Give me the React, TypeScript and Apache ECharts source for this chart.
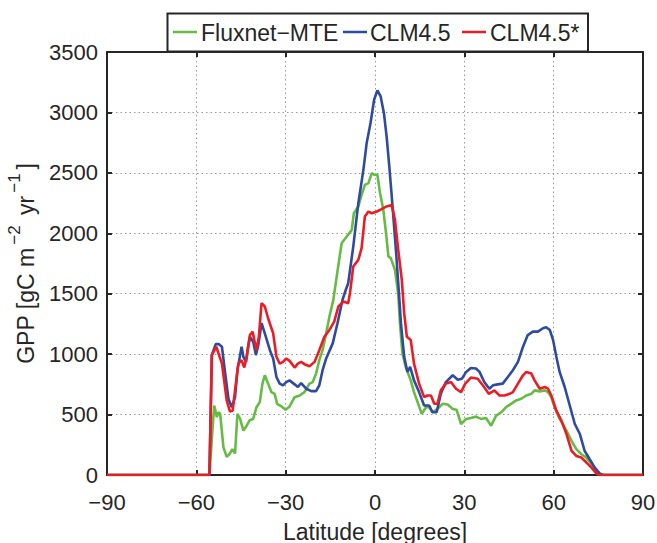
import React, { useEffect, useRef } from "react";
import * as echarts from "echarts";

const seriesNames = ["Fluxnet\u2212MTE", "CLM4.5", "CLM4.5*"];
const seriesColors = ["#66bb44", "#2e4b9f", "#ec1c24"];

const fluxLat = [-90, -55.6, -54.8, -54, -53.1, -52.6, -52, -50.9, -49.8, -48.7, -47.9, -47, -46.2, -45.3, -44.2, -43.1, -42, -40.9, -39.8, -38.7, -37.8, -37, -35.9, -34.8, -33.7, -32.9, -31.4, -30, -28.7, -27, -25.3, -23.7, -22, -20.9, -19.8, -18.7, -17.6, -16.4, -15.3, -14, -12.7, -11.2, -9.5, -7.8, -7.1, -5.6, -4.5, -3.4, -2.2, -1.1, -0.3, 0.8, 1.7, 2.8, 3.7, 4.5, 5.3, 6.7, 7.8, 8.4, 9.2, 10.3, 12, 13.1, 14.3, 15.7, 17.1, 18.2, 19.3, 21, 22.7, 24.4, 26.1, 27.4, 28.9, 30.6, 32.2, 33.9, 35.6, 37.3, 39, 40.7, 42.4, 44, 45.7, 47.4, 49.1, 50.8, 52.5, 53.6, 55.3, 57, 58.1, 59.2, 60.3, 62, 64.3, 66, 67.6, 69.3, 71, 72.7, 74.4, 75.7, 76.6, 90];
const fluxGpp = [0, 0, 300, 575, 478, 519, 506, 228, 150, 178, 214, 178, 506, 464, 367, 408, 456, 464, 561, 603, 756, 825, 756, 686, 672, 589, 567, 539, 567, 644, 658, 686, 756, 769, 839, 950, 1033, 1172, 1311, 1449, 1670, 1918, 1973, 2028, 2166, 2222, 2318, 2401, 2415, 2498, 2484, 2484, 2332, 2194, 2001, 1808, 1794, 1697, 1500, 1250, 1006, 894, 783, 686, 603, 506, 561, 561, 519, 547, 589, 583, 547, 539, 422, 464, 472, 483, 464, 472, 408, 492, 519, 561, 589, 617, 631, 658, 672, 700, 692, 700, 686, 644, 561, 464, 367, 283, 214, 172, 144, 89, 33, 6, 0, 0];

const clmLat = [-90, -55.6, -54.8, -53.5, -52.5, -51.4, -50.3, -49.2, -48.1, -47, -46.2, -45.3, -44.8, -44.2, -43.3, -42.6, -42, -40.9, -40, -39.2, -38.1, -37, -35.3, -34.2, -33.1, -32, -30.9, -29.8, -28.7, -27, -25.9, -24.8, -23.1, -21.4, -19.8, -18.7, -17.6, -16.4, -14.2, -12.6, -10.9, -9.8, -9, -7.3, -5.6, -3.9, -2.8, -1.5, -0.3, 0.8, 1.9, 3, 3.9, 4.8, 5.9, 7.1, 8.2, 8.7, 9.8, 10.9, 11.8, 13.1, 14.8, 16.5, 18.2, 19.3, 20.7, 22.1, 23.8, 26.1, 27.8, 29.2, 30.6, 32.2, 33.9, 35.1, 36.7, 38.4, 39.6, 41.2, 42.9, 44.6, 46.3, 48, 49.7, 51.3, 53, 54.7, 56.4, 57.5, 58.7, 59.8, 60.9, 62, 63.7, 65.4, 67.1, 68.8, 70.4, 72.1, 73.8, 75.5, 76.6, 90];
const clmGpp = [0, 0, 992, 1083, 1083, 1061, 839, 630, 561, 644, 867, 992, 1061, 978, 936, 1061, 1144, 1103, 992, 1075, 1256, 1172, 1033, 964, 811, 756, 742, 769, 783, 750, 728, 761, 714, 694, 694, 742, 867, 964, 1089, 1256, 1450, 1533, 1587, 1890, 2249, 2525, 2746, 2912, 3105, 3182, 3132, 2994, 2801, 2553, 2222, 1835, 1449, 1256, 978, 853, 894, 783, 686, 575, 575, 519, 519, 672, 769, 825, 789, 797, 853, 886, 881, 853, 769, 714, 742, 750, 756, 811, 867, 936, 1061, 1158, 1186, 1186, 1214, 1222, 1200, 1117, 978, 853, 728, 575, 422, 339, 200, 130, 61, 11, 0, 0];

const clmStarLat = [-90, -55.6, -54.8, -53.3, -51.4, -49.8, -48.7, -47.8, -47, -45.9, -44.8, -43.9, -43.1, -42, -41.1, -40.3, -39.8, -39, -38.1, -37, -35.9, -34.2, -33.1, -32, -30.9, -29.8, -28.7, -27, -25.9, -24.8, -23.7, -22, -20.3, -18.7, -17, -15.3, -13.7, -12.3, -10.6, -9, -8.4, -7.3, -5.6, -4.5, -3.4, -2.2, -1.1, 0.6, 2.2, 3.9, 5.6, 6.7, 7.8, 9, 9.8, 10.7, 12, 13.1, 14.8, 16.5, 17.6, 18.8, 19.9, 21, 22.1, 23.8, 25.5, 27.2, 28.9, 30.3, 32.2, 34.5, 36.2, 38.2, 40.1, 41.8, 43.5, 45.2, 46.3, 48, 49.7, 50.8, 52.5, 53.6, 55.3, 57, 58.1, 59.2, 60.9, 62.6, 64.3, 66, 67.6, 69.3, 71, 72.7, 74.4, 75.5, 90];
const clmStarGpp = [0, 0, 992, 1061, 922, 617, 525, 533, 700, 922, 950, 889, 978, 1158, 1186, 1089, 1033, 1144, 1422, 1394, 1297, 1172, 978, 922, 936, 964, 944, 889, 922, 936, 917, 900, 936, 1033, 1144, 1200, 1269, 1394, 1435, 1421, 1506, 1725, 1780, 1877, 2139, 2180, 2166, 2180, 2200, 2222, 2235, 2111, 1863, 1614, 1339, 1144, 1117, 922, 756, 644, 658, 658, 589, 589, 700, 756, 769, 714, 686, 756, 806, 797, 742, 672, 700, 658, 658, 672, 686, 756, 825, 853, 839, 783, 714, 728, 714, 658, 533, 450, 339, 200, 158, 144, 103, 61, 11, 0, 0];

const xTitle = "Latitude [degrees]";

const FONT = "'Liberation Sans', Arial, Helvetica, sans-serif";
const INK = "#262626";

function pairs(lat: number[], v: number[]) {
  return lat.map((x, i) => [x, v[i]]);
}

export default function App() {
  const ref = useRef<HTMLDivElement>(null);
  useEffect(() => {
    if (!ref.current) return;
    const chart = echarts.init(ref.current, null, { renderer: "svg" });
    const fmt = (v: number) => (v < 0 ? "\u2212" + Math.abs(v) : String(v));
    const axisLine = { show: true, onZero: false, lineStyle: { color: INK, width: 2 } };
    const axisTick = { show: true, inside: true, length: 5, lineStyle: { color: INK, width: 2 } };
    const split = { show: true, lineStyle: { color: "#9a9a9a", width: 1, type: [1.5, 3] as any } };
    const datasets = [pairs(fluxLat, fluxGpp), pairs(clmLat, clmGpp), pairs(clmStarLat, clmStarGpp)];
    const legendX = [173, 343, 462];
    const legendTextX = [201, 370, 490];
    const graphic: any[] = [
      {
        type: "rect",
        shape: { x: 167.5, y: 13.5, width: 420.5, height: 38 },
        style: { fill: "#fff", stroke: INK, lineWidth: 2 },
        z: 100,
      },
    ];
    seriesNames.forEach((n, i) => {
      graphic.push({
        type: "line",
        shape: { x1: legendX[i], y1: 32, x2: legendX[i] + 24, y2: 32 },
        style: { stroke: seriesColors[i], lineWidth: 2.5 },
        z: 101,
      });
      graphic.push({
        type: "text",
        x: legendTextX[i],
        y: 33,
        style: { text: n, fill: INK, font: `23px ${FONT}`, align: "left", verticalAlign: "middle" },
        z: 101,
      });
    });
    chart.setOption({
      animation: false,
      backgroundColor: "#fff",
      grid: { left: 107, right: 14, top: 52, bottom: 68, containLabel: false, outerBoundsMode: "none" },
      xAxis: [
        {
          type: "value",
          min: -90,
          max: 90,
          interval: 30,
          position: "bottom",
          axisLine,
          axisTick,
          splitLine: split,
          axisLabel: { formatter: fmt, color: INK, fontSize: 22, fontFamily: FONT, margin: 16 },
          name: xTitle,
          nameLocation: "middle",
          nameGap: 45,
          nameMoveOverlap: false,
          nameTextStyle: { color: INK, fontSize: 23, fontFamily: FONT },
        },
        {
          type: "value",
          min: -90,
          max: 90,
          interval: 30,
          position: "top",
          axisLine,
          axisTick,
          splitLine: { show: false },
          axisLabel: { show: false },
        },
      ],
      yAxis: [
        {
          type: "value",
          min: 0,
          max: 3500,
          interval: 500,
          position: "left",
          axisLine,
          axisTick,
          splitLine: split,
          axisLabel: { formatter: fmt, color: INK, fontSize: 22, fontFamily: FONT, margin: 9 },
          name: "GPP [gC m{sup|\u22122} yr{sup|\u22121}]",
          nameLocation: "middle",
          nameGap: 70,
          nameRotate: 90,
          nameMoveOverlap: false,
          nameTextStyle: {
            color: INK,
            fontSize: 23,
            fontFamily: FONT,
            rich: {
              sup: {
                fontSize: 17,
                fontFamily: FONT,
                color: INK,
                lineHeight: 17,
                padding: [0, 4, 22, 3],
              },
            },
          },
        },
        {
          type: "value",
          min: 0,
          max: 3500,
          interval: 500,
          position: "right",
          axisLine,
          axisTick,
          splitLine: { show: false },
          axisLabel: { show: false },
        },
      ],
      series: datasets.map((d, i) => ({
        type: "line",
        name: seriesNames[i],
        data: d,
        xAxisIndex: 0,
        yAxisIndex: 0,
        showSymbol: false,
        symbol: "none",
        lineStyle: { color: seriesColors[i], width: 2.6 },
        itemStyle: { color: seriesColors[i] },
        z: 3 + i,
      })),
      graphic,
    });
    return () => chart.dispose();
  }, []);
  return <div ref={ref} style={{ width: 657, height: 543, position: "absolute", left: 0, top: 0 }} />;
}
